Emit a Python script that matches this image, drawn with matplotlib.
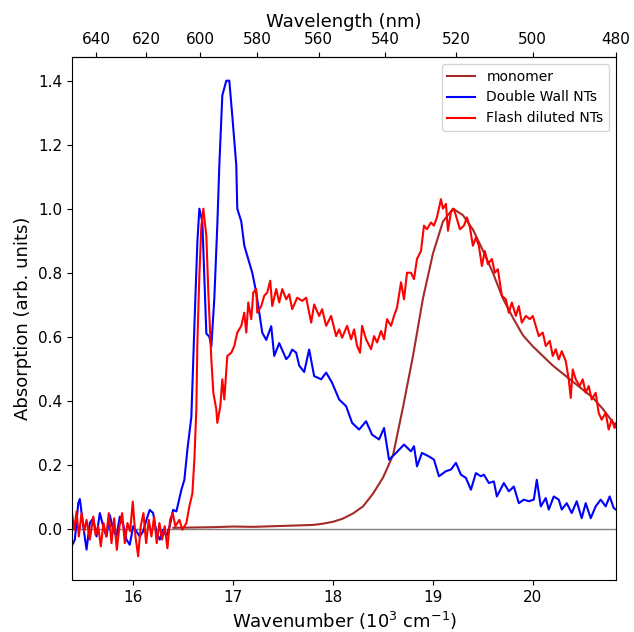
"""
Absorption spectra: monomer vs double wall NTs vs flash diluted NTs
"""

import matplotlib.pyplot as plt
import numpy as np

# wavenumber in 10^3 cm^-1, absorption in arb. units
mono_x = [16.4, 16.6, 16.8, 17.0, 17.2, 17.4, 17.6, 17.8, 17.9, 18.0, 18.1, 18.2, 18.3,
          18.4, 18.5, 18.6, 18.7, 18.8, 18.9, 19.0, 19.1, 19.2, 19.3, 19.4, 19.5, 19.6,
          19.7, 19.8, 19.9, 20.0, 20.2, 20.4, 20.6, 20.7, 20.833]
mono_y = [0.003, 0.004, 0.005, 0.007, 0.006, 0.008, 0.01, 0.012, 0.016, 0.022, 0.032,
          0.048, 0.07, 0.11, 0.16, 0.23, 0.38, 0.54, 0.72, 0.86, 0.96, 1.0, 0.98, 0.935,
          0.87, 0.80, 0.72, 0.66, 0.605, 0.57, 0.51, 0.46, 0.41, 0.375, 0.32]

dw_x = [15.38, 15.413, 15.447, 15.463, 15.497, 15.53, 15.563, 15.597, 15.63, 15.663,
        15.697, 15.73, 15.763, 15.797, 15.83, 15.863, 15.897, 15.93, 15.963, 15.997,
        16.03, 16.063, 16.097, 16.13, 16.163, 16.197, 16.23, 16.263, 16.297, 16.33,
        16.363, 16.397, 16.43, 16.48, 16.51, 16.54, 16.58, 16.61, 16.64, 16.66, 16.69,
        16.73, 16.76, 16.78, 16.81, 16.84, 16.86, 16.89, 16.93, 16.96, 16.99, 17.03,
        17.04, 17.08, 17.11, 17.14, 17.19, 17.23, 17.26, 17.29, 17.33, 17.38, 17.41,
        17.46, 17.53, 17.56, 17.59, 17.63, 17.66, 17.71, 17.76, 17.81, 17.88, 17.93,
        17.99, 18.06, 18.13, 18.19, 18.26, 18.33, 18.39, 18.46, 18.51, 18.56, 18.63,
        18.71, 18.78, 18.81, 18.84, 18.89, 18.96, 19.01, 19.06, 19.13, 19.18, 19.23,
        19.28, 19.33, 19.38, 19.43, 19.48, 19.51, 19.56, 19.61, 19.64, 19.71, 19.76,
        19.81, 19.86, 19.91, 19.96, 20.01, 20.04, 20.08, 20.13, 20.16, 20.21, 20.26,
        20.29, 20.34, 20.39, 20.44, 20.49, 20.53, 20.58, 20.63, 20.68, 20.73, 20.77,
        20.81, 20.833]
dw_y = [-0.055, -0.034, 0.08, 0.093, 0.008, -0.065, 0.018, 0.033, -0.024, 0.049,
        0.008, -0.024, 0.043, -0.003, -0.024, 0.038, 0.013, -0.034, -0.05, 0.008,
        -0.008, -0.024, -0.008, 0.028, 0.059, 0.049, -0.013, -0.034, -0.003, -0.024,
        0.008, 0.059, 0.054, 0.122, 0.153, 0.247, 0.35, 0.63, 0.895, 1.0, 0.96,
        0.61, 0.60, 0.57, 0.72, 0.95, 1.135, 1.354, 1.40, 1.40, 1.29, 1.135,
        1.0, 0.96, 0.885, 0.853, 0.80, 0.738, 0.675, 0.613, 0.59, 0.633, 0.54,
        0.58, 0.53, 0.54, 0.56, 0.55, 0.51, 0.49, 0.56, 0.477, 0.467, 0.488,
        0.456, 0.404, 0.383, 0.331, 0.31, 0.336, 0.294, 0.279, 0.315, 0.216, 0.237,
        0.263, 0.242, 0.258, 0.195, 0.237, 0.226, 0.216, 0.164, 0.18, 0.185, 0.206,
        0.169, 0.159, 0.122, 0.174, 0.164, 0.169, 0.143, 0.148, 0.101, 0.143, 0.117,
        0.132, 0.08, 0.091, 0.086, 0.091, 0.153, 0.07, 0.096, 0.06, 0.101, 0.091,
        0.06, 0.08, 0.049, 0.086, 0.033, 0.08, 0.033, 0.07, 0.091, 0.07, 0.101,
        0.065, 0.06]

fd_x = [15.38, 15.407, 15.43, 15.453, 15.48, 15.507, 15.53, 15.563, 15.597, 15.62,
        15.647, 15.673, 15.70, 15.727, 15.753, 15.78, 15.807, 15.833, 15.86, 15.887,
        15.913, 15.94, 15.967, 15.993, 16.02, 16.047, 16.073, 16.10, 16.127, 16.153,
        16.18, 16.207, 16.233, 16.26, 16.287, 16.313, 16.34, 16.367, 16.393, 16.42,
        16.46, 16.49, 16.53, 16.56, 16.59, 16.61, 16.63, 16.64, 16.66, 16.68, 16.70,
        16.73, 16.75, 16.78, 16.80, 16.83, 16.84, 16.87, 16.89, 16.91, 16.94, 16.98,
        17.01, 17.04, 17.08, 17.11, 17.13, 17.15, 17.18, 17.20, 17.23, 17.24, 17.28,
        17.31, 17.34, 17.37, 17.39, 17.43, 17.46, 17.49, 17.53, 17.56, 17.59, 17.64,
        17.69, 17.73, 17.78, 17.81, 17.86, 17.89, 17.93, 17.98, 18.03, 18.06, 18.09,
        18.14, 18.18, 18.21, 18.24, 18.27, 18.29, 18.33, 18.38, 18.41, 18.44, 18.48,
        18.51, 18.54, 18.58, 18.61, 18.64, 18.68, 18.71, 18.74, 18.78, 18.81, 18.84,
        18.88, 18.91, 18.94, 18.98, 19.01, 19.04, 19.08, 19.10, 19.13, 19.15, 19.18,
        19.21, 19.24, 19.27, 19.31, 19.34, 19.37, 19.40, 19.43, 19.46, 19.49, 19.52,
        19.55, 19.59, 19.62, 19.65, 19.69, 19.73, 19.76, 19.79, 19.83, 19.86, 19.89,
        19.93, 19.97, 20.0, 20.03, 20.06, 20.10, 20.13, 20.17, 20.20, 20.23, 20.26,
        20.29, 20.33, 20.36, 20.38, 20.40, 20.43, 20.47, 20.50, 20.53, 20.56, 20.59,
        20.63, 20.66, 20.69, 20.73, 20.76, 20.79, 20.82, 20.833]
fd_y = [0.06, -0.003, 0.054, -0.024, 0.049, -0.008, 0.028, -0.034, 0.038, -0.019,
        0.008, -0.055, 0.018, -0.024, 0.049, -0.045, 0.033, -0.066, 0.008, 0.049,
        -0.045, 0.018, -0.008, 0.085, -0.024, -0.086, 0.008, 0.049, -0.045, 0.028,
        -0.024, 0.038, -0.045, 0.018, -0.034, 0.008, -0.061, 0.028, 0.049, 0.008,
        0.028, -0.003, 0.018, 0.07, 0.11, 0.216, 0.373, 0.58, 0.79, 0.947, 1.0,
        0.915, 0.738, 0.53, 0.425, 0.373, 0.331, 0.383, 0.467, 0.404, 0.54, 0.55,
        0.571, 0.613, 0.634, 0.675, 0.613, 0.707, 0.655, 0.738, 0.749, 0.675, 0.696,
        0.728, 0.738, 0.775, 0.696, 0.749, 0.707, 0.749, 0.717, 0.733, 0.686, 0.722,
        0.712, 0.722, 0.644, 0.701, 0.665, 0.686, 0.634, 0.665, 0.602, 0.623, 0.597,
        0.634, 0.592, 0.623, 0.571, 0.55, 0.634, 0.592, 0.561, 0.602, 0.582, 0.618,
        0.592, 0.655, 0.634, 0.665, 0.691, 0.77, 0.717, 0.80, 0.80, 0.78, 0.843,
        0.868, 0.947, 0.936, 0.957, 0.947, 0.973, 1.03, 1.0, 1.015, 0.931, 0.989,
        1.0, 0.968, 0.936, 0.947, 0.973, 0.942, 0.884, 0.910, 0.884, 0.821, 0.868,
        0.827, 0.843, 0.80, 0.811, 0.728, 0.717, 0.675, 0.707, 0.665, 0.696, 0.644,
        0.665, 0.655, 0.665, 0.634, 0.602, 0.613, 0.571, 0.587, 0.54, 0.561, 0.529,
        0.555, 0.524, 0.467, 0.409, 0.498, 0.467, 0.446, 0.467, 0.425, 0.446, 0.404,
        0.425, 0.362, 0.341, 0.362, 0.31, 0.341, 0.315, 0.33]

wl_ticks = [640, 620, 600, 580, 560, 540, 520, 500, 480]


def to_nm(k):
    k = np.asarray(k, dtype=float)
    return 1e4 / np.where(k == 0, 1e-9, k)


fig = plt.figure(figsize=(6.34, 6.32), dpi=100)
ax = fig.add_axes([0.1136, 0.0823, 0.858, 0.8275])

ax.plot(mono_x, mono_y, color='brown', lw=1.5, label='monomer')
ax.plot(dw_x, dw_y, color='blue', lw=1.5, label='Double Wall NTs')
ax.plot(fd_x, fd_y, color='red', lw=1.5, label='Flash diluted NTs')
ax.axhline(0, color='grey', lw=1, zorder=0)

ax.set_xlim(1e4 / 650, 1e4 / 480)
ax.set_ylim(-0.16, 1.474)
ax.set_xticks([16, 17, 18, 19, 20])
ax.set_yticks(np.arange(0, 1.41, 0.2))
ax.tick_params(labelsize=11)
ax.set_xlabel('Wavenumber (10$^3$ cm$^{-1}$)', fontsize=13)
ax.set_ylabel('Absorption (arb. units)', fontsize=13)

top = ax.secondary_xaxis('top', functions=(to_nm, to_nm))
top.set_xticks(wl_ticks)
top.tick_params(labelsize=11)
top.set_xlabel('Wavelength (nm)', fontsize=13)

ax.legend(loc='upper right', fontsize=10)

fig.savefig('out.png', dpi=100)
